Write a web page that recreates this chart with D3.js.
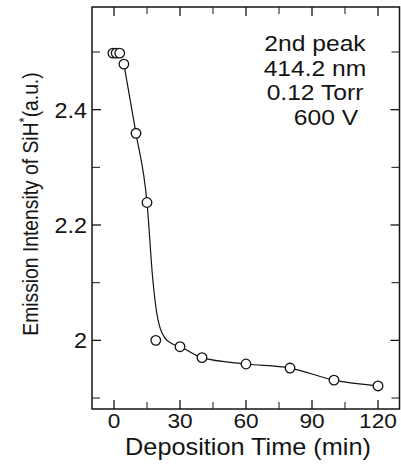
<!DOCTYPE html>
<html>
<head>
<meta charset="utf-8">
<script src="https://cdn.jsdelivr.net/npm/d3@7"></script>
<style>
  html, body { margin: 0; padding: 0; background: #fff; }
  svg { display: block; font-family: "Liberation Sans", Arial, Helvetica, sans-serif; }
</style>
</head>
<body>
<svg id="chart" width="401" height="464"></svg>
<script>
// measured points (time in min, SiH* intensity in a.u.)
const times = [-0.5, 1, 2.6, 4.5, 10, 15, 19, 30, 40, 60, 80, 100, 120];
const intensity = [2.498, 2.498, 2.498, 2.479, 2.359, 2.239, 2.0, 1.989, 1.970, 1.959, 1.952, 1.931, 1.921];

// hand-drawn guide curve
const curveTimes = [4.5, 10, 15, 17.7, 19.5, 20.9, 23.2, 26.4, 30, 40, 60, 80, 100, 120];
const curveVals = [2.479, 2.359, 2.239, 2.103, 2.046, 2.022, 2.004, 1.994, 1.989, 1.970, 1.959, 1.952, 1.931, 1.921];

const xTickLabels = [0, 30, 60, 90, 120];
const xMinorTicks = [15, 45, 75, 105];
const yTickLabels = [2, 2.2, 2.4];
const yMinorTicks = [1.9, 2.1, 2.3, 2.5];
const annotLines = ["2nd peak", "414.2 nm", "0.12 Torr", "600 V"];

const svg = d3.select("#chart");
const ink = "#141414";

const x = d3.scaleLinear().domain([-10, 130]).range([92, 400]);
const y = d3.scaleLinear().domain([1.881, 2.578]).range([409, 7]);

const pLeft = x.range()[0], pRight = x.range()[1];
const pTop = y.range()[1], pBottom = y.range()[0];

// frame
svg.append("rect")
  .attr("x", pLeft).attr("y", pTop)
  .attr("width", pRight - pLeft - 0.5).attr("height", pBottom - pTop)
  .attr("fill", "none").attr("stroke", ink).attr("stroke-width", 1.5);

// inward ticks, all four sides
function xTicks(vals, len, w) {
  vals.forEach(v => {
    svg.append("line").attr("x1", x(v)).attr("x2", x(v))
      .attr("y1", pBottom).attr("y2", pBottom - len)
      .attr("stroke", ink).attr("stroke-width", w);
    svg.append("line").attr("x1", x(v)).attr("x2", x(v))
      .attr("y1", pTop).attr("y2", pTop + len)
      .attr("stroke", ink).attr("stroke-width", w);
  });
}
function yTicks(vals, len, w) {
  vals.forEach(v => {
    svg.append("line").attr("x1", pLeft).attr("x2", pLeft + len)
      .attr("y1", y(v)).attr("y2", y(v))
      .attr("stroke", ink).attr("stroke-width", w);
    svg.append("line").attr("x1", pRight - 0.5).attr("x2", pRight - 0.5 - len)
      .attr("y1", y(v)).attr("y2", y(v))
      .attr("stroke", ink).attr("stroke-width", w);
  });
}
xTicks(xTickLabels, 9, 1.3);
xTicks(xMinorTicks, 7, 1);
yTicks(yTickLabels, 9, 1.3);
yTicks(yMinorTicks, 8, 1);

// tick labels
xTickLabels.forEach(v => {
  svg.append("text")
    .attr("transform", `translate(${x(v)},428) scale(1.08,1)`)
    .attr("text-anchor", "middle")
    .attr("fill", ink)
    .style("font-size", "21px")
    .text(v);
});
yTickLabels.forEach(v => {
  svg.append("text")
    .attr("transform", `translate(87,${y(v) + 8}) scale(1.06,1)`)
    .attr("text-anchor", "end")
    .attr("fill", ink)
    .style("font-size", "22px")
    .text(v === 2 ? "2" : v.toFixed(1));
});

// axis titles
svg.append("text")
  .attr("transform", `translate(${(pLeft + pRight) / 2 + 2},455) scale(1.1,1)`)
  .attr("text-anchor", "middle")
  .attr("fill", ink)
  .style("font-size", "23px")
  .text("Deposition Time (min)");

const yl = svg.append("text")
  .attr("transform", "translate(38,204) rotate(-90) scale(1,1.1)")
  .attr("text-anchor", "middle")
  .attr("fill", ink)
  .style("font-size", "19.3px");
yl.append("tspan").text("Emission Intensity of SiH");
yl.append("tspan").attr("dy", -8).style("font-size", "13px").text("*");
yl.append("tspan").attr("dy", 8).text("(a.u.)");

// annotation
const annotX = [315, 315, 315, 326];
annotLines.forEach((t, i) => {
  svg.append("text")
    .attr("transform", `translate(${annotX[i]},${51 + i * 24.7}) scale(1.12,1)`)
    .attr("text-anchor", "middle")
    .attr("fill", ink)
    .style("font-size", "22px")
    .text(t);
});

// guide curve
const curvePts = curveTimes.map((t, i) => [t, curveVals[i]]);
svg.append("path")
  .datum(curvePts)
  .attr("d", d3.line().x(d => x(d[0])).y(d => y(d[1])).curve(d3.curveMonotoneX))
  .attr("fill", "none")
  .attr("stroke", ink)
  .attr("stroke-width", 1.2);

// data markers
svg.selectAll("circle.pt")
  .data(times.map((t, i) => [t, intensity[i]]))
  .join("circle")
  .attr("class", "pt")
  .attr("cx", d => x(d[0]))
  .attr("cy", d => y(d[1]))
  .attr("r", 4.8)
  .attr("fill", "#fff")
  .attr("stroke", ink)
  .attr("stroke-width", 1.3);
</script>
</body>
</html>
